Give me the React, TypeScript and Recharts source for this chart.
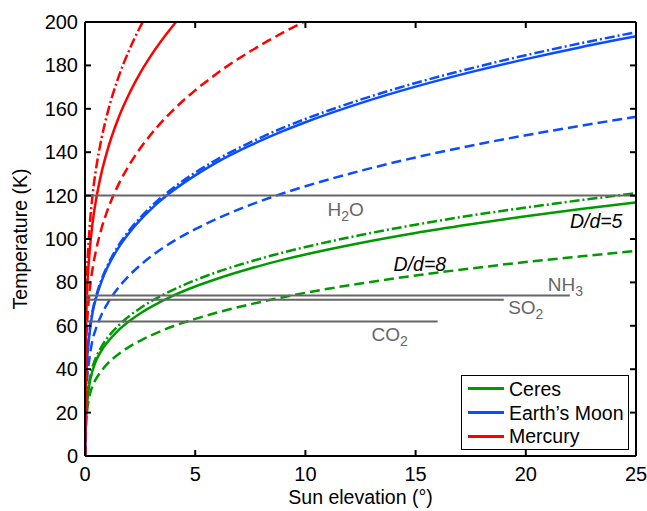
import { LineChart, Line, XAxis, YAxis, ReferenceLine, ReferenceDot, Legend } from "recharts";

const FONT = "'Liberation Sans', Arial, Helvetica, sans-serif";

// sun elevation (deg)
const elevation = [0, 0.05, 0.1, 0.2, 0.35, 0.5, 0.75, 1, 1.5, 2, 2.5, 3, 4, 5, 6, 7.5, 9, 10, 12.5, 15, 17.5, 20, 22.5, 25];

// temperatures (K)
const ceresSolid = [0, 18, 25, 33, 39.5, 43.9, 48.6, 52.2, 57.8, 62.1, 65.7, 68.7, 73.9, 78.1, 81.7, 86.4, 90.5, 92.9, 98.2, 102.8, 106.8, 110.5, 113.8, 116.8];
const ceresDashDot = [0, 19, 26.5, 34.5, 41.2, 45.5, 50.4, 54.2, 59.9, 64.4, 68.1, 71.3, 76.6, 81.0, 84.8, 89.6, 93.8, 96.3, 101.8, 106.6, 110.8, 114.5, 117.9, 121.1];
const ceresDashed = [0, 15, 21, 27.5, 32.5, 35.5, 39.3, 42.3, 46.8, 50.3, 53.1, 55.6, 59.8, 63.2, 66.1, 69.9, 73.2, 75.2, 79.5, 83.2, 86.4, 89.4, 92.0, 94.5];
const moonSolid = [0, 34, 45, 56, 66.5, 72.7, 80.5, 86.5, 95.7, 102.8, 108.7, 113.8, 122.3, 129.3, 135.4, 143.1, 149.8, 153.8, 162.6, 170.2, 176.9, 182.9, 188.4, 193.4];
const moonDashDot = [0, 35, 46, 57, 67.2, 73.5, 81.3, 87.3, 96.7, 103.9, 109.8, 115.0, 123.5, 130.6, 136.7, 144.5, 151.3, 155.3, 164.2, 171.9, 178.6, 184.7, 190.2, 195.3];
const moonDashed = [0, 28, 36, 45, 53.8, 58.8, 65.1, 69.9, 77.4, 83.1, 87.9, 92.0, 98.9, 104.5, 109.4, 115.7, 121.1, 124.3, 131.4, 137.6, 143.0, 147.8, 152.2, 156.3];
const mercurySolid = [0, 62, 77, 93, 107.9, 118.0, 130.6, 140.3, 155.3, 166.8, 176.4, 184.6, 198.4, 209.8];
const mercuryDashDot = [0, 70, 86, 104, 120.9, 132.2, 146.3, 157.2, 174.0, 186.9, 197.7, 206.9];
const mercuryDashed = [0, 50, 62, 75, 86.7, 94.8, 104.9, 112.7, 124.7, 134.0, 141.7, 148.3, 159.4, 168.5, 176.4, 186.5, 195.2, 200.4, 211.9];

const xTicks = [0, 5, 10, 15, 20, 25];
const yTicks = [0, 20, 40, 60, 80, 100, 120, 140, 160, 180, 200];

// sublimation lines
const gasHead = ["H", "NH", "SO", "CO"];
const gasSub = ["2", "3", "2", "2"];
const gasTail = ["O", "", "", ""];
const gasTemp = [120, 74, 72, 62];
const gasEnd = [25, 22, 19, 16];
const gasLabelX = [11.0, 21.0, 19.2, 13.0];
const gasLabelY = [110.6, 76.2, 65.4, 53.0];

const ratioText = ["D/d=5", "D/d=8"];
const ratioX = [22.0, 14.0];
const ratioY = [105.1, 85.3];

const bodies = ["Ceres", "Earth\u2019s Moon", "Mercury"];
const bodyColors = ["#009900", "#0a4dff", "#ff0000"];

const DASHED = "10 5";
const DASHDOT = "10 3 2 3";

// plot box in pixels (from the margins below)
const PLOT_TOP = 22;
const PLOT_BOTTOM = 456;
const PLOT_LEFT = 85;
const PLOT_RIGHT = 636;
const TICK = 6;

const rows = elevation.map((x, i) => ({
  x,
  ceresSolid: ceresSolid[i],
  ceresDashDot: ceresDashDot[i],
  ceresDashed: ceresDashed[i],
  moonSolid: moonSolid[i],
  moonDashDot: moonDashDot[i],
  moonDashed: moonDashed[i],
  mercurySolid: mercurySolid[i],
  mercuryDashDot: mercuryDashDot[i],
  mercuryDashed: mercuryDashed[i],
}));

const series = [
  { key: "ceresDashed", color: bodyColors[0], dash: DASHED },
  { key: "ceresDashDot", color: bodyColors[0], dash: DASHDOT },
  { key: "ceresSolid", color: bodyColors[0], dash: undefined },
  { key: "moonDashed", color: bodyColors[1], dash: DASHED },
  { key: "moonDashDot", color: bodyColors[1], dash: DASHDOT },
  { key: "moonSolid", color: bodyColors[1], dash: undefined },
  { key: "mercuryDashed", color: bodyColors[2], dash: DASHED },
  { key: "mercuryDashDot", color: bodyColors[2], dash: DASHDOT },
  { key: "mercurySolid", color: bodyColors[2], dash: undefined },
];

const axisStroke = { stroke: "#000", strokeWidth: 2 };

// inward ticks on both sides, MATLAB style
const XTick = ({ x, payload }: any) => (
  <g>
    <line x1={x} x2={x} y1={PLOT_BOTTOM} y2={PLOT_BOTTOM - TICK} stroke="#000" strokeWidth={2} />
    <line x1={x} x2={x} y1={PLOT_TOP} y2={PLOT_TOP + TICK} stroke="#000" strokeWidth={2} />
    <text x={x} y={PLOT_BOTTOM + 25} textAnchor="middle" fontSize={20} fontFamily={FONT} fill="#000">
      {payload.value}
    </text>
  </g>
);

const YTick = ({ y, payload }: any) => (
  <g>
    <line x1={PLOT_LEFT} x2={PLOT_LEFT + TICK} y1={y} y2={y} stroke="#000" strokeWidth={2} />
    <line x1={PLOT_RIGHT} x2={PLOT_RIGHT - TICK} y1={y} y2={y} stroke="#000" strokeWidth={2} />
    <text x={PLOT_LEFT - 7} y={y + 7} textAnchor="end" fontSize={20} fontFamily={FONT} fill="#000">
      {payload.value}
    </text>
  </g>
);

const XTitle = ({ viewBox }: any) => (
  <text x={viewBox.x + viewBox.width / 2} y={viewBox.y + 48} textAnchor="middle" fontSize={19.5} fontFamily={FONT} fill="#000">
    Sun elevation (°)
  </text>
);

const YTitle = ({ viewBox }: any) => {
  const cy = viewBox.y + viewBox.height / 2;
  return (
    <text x={27} y={cy} transform={`rotate(-90 27 ${cy})`} textAnchor="middle" fontSize={19.5} fontFamily={FONT} fill="#000">
      Temperature (K)
    </text>
  );
};

const GasLabel = ({ viewBox, head, sub, tail }: any) => (
  <text x={viewBox.x} y={viewBox.y} fill="#666" fontSize={19} fontFamily={FONT}>
    <tspan>{head}</tspan>
    <tspan fontSize={14} dy={5}>{sub}</tspan>
    {tail ? <tspan dy={-5}>{tail}</tspan> : null}
  </text>
);

const RatioLabel = ({ viewBox, text }: any) => (
  <text x={viewBox.x} y={viewBox.y} fill="#000" fontSize={19.5} fontStyle="italic" fontFamily={FONT}>
    {text}
  </text>
);

const LegendBox = () => (
  <div style={{ width: 168, height: 75, border: "1.5px solid #000", background: "#fff", boxSizing: "border-box", paddingTop: 1, fontFamily: FONT, fontSize: 19.5, color: "#000" }}>
    {bodies.map((b, i) => (
      <div key={b} style={{ display: "flex", alignItems: "center", height: 23.7 }}>
        <div style={{ width: 36, height: 3, marginLeft: 6, marginRight: 5, background: bodyColors[i] }} />
        <span style={{ lineHeight: "22px" }}>{b}</span>
      </div>
    ))}
  </div>
);

export default function App() {
  return (
    <div style={{ position: "absolute", left: 0, top: 0, background: "#fff" }}>
      <LineChart width={647} height={511} data={rows} margin={{ top: PLOT_TOP, right: 647 - PLOT_RIGHT, bottom: 0, left: 0 }}>
        <XAxis
          dataKey="x"
          type="number"
          domain={[0, 25]}
          ticks={xTicks}
          interval={0}
          height={511 - PLOT_BOTTOM}
          tickSize={0}
          tickLine={false}
          axisLine={axisStroke}
          tick={<XTick />}
          allowDataOverflow
          label={<XTitle />}
        />
        <YAxis
          type="number"
          domain={[0, 200]}
          ticks={yTicks}
          interval={0}
          width={PLOT_LEFT}
          tickSize={0}
          tickLine={false}
          axisLine={axisStroke}
          tick={<YTick />}
          allowDataOverflow
          label={<YTitle />}
        />

        {series.map((s) => (
          <Line
            key={s.key}
            dataKey={s.key}
            type="monotone"
            stroke={s.color}
            strokeWidth={2.5}
            strokeDasharray={s.dash}
            dot={false}
            activeDot={false}
            isAnimationActive={false}
            legendType="none"
          />
        ))}

        {gasTemp.map((t, i) => (
          <ReferenceLine key={gasHead[i]} segment={[{ x: 0, y: t }, { x: gasEnd[i], y: t }]} stroke="#666" strokeWidth={2} />
        ))}
        {gasHead.map((h, i) => (
          <ReferenceDot key={"l" + h} x={gasLabelX[i]} y={gasLabelY[i]} r={0} fill="none" stroke="none" label={<GasLabel head={h} sub={gasSub[i]} tail={gasTail[i]} />} />
        ))}
        {ratioText.map((t, i) => (
          <ReferenceDot key={t} x={ratioX[i]} y={ratioY[i]} r={0} fill="none" stroke="none" label={<RatioLabel text={t} />} />
        ))}

        {/* top and right edges of the box */}
        <ReferenceLine y={200} stroke="#000" strokeWidth={2} />
        <ReferenceLine x={25} stroke="#000" strokeWidth={2} />

        <Legend
          layout="horizontal"
          verticalAlign="middle"
          align="center"
          content={<LegendBox />}
          wrapperStyle={{ position: "absolute", left: 461, top: 375, width: 168, height: 75, margin: 0 }}
        />
      </LineChart>
    </div>
  );
}
